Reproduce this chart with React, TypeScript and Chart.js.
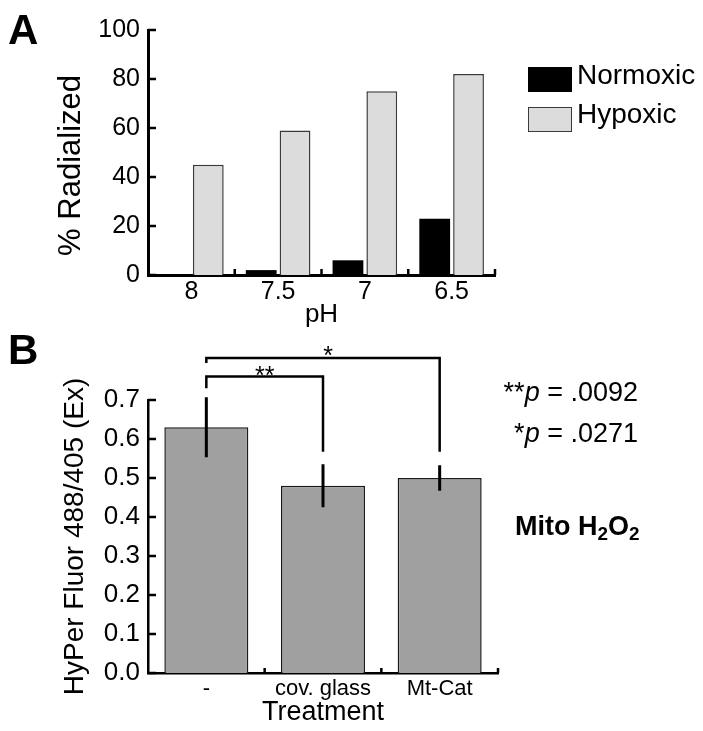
import React, { useEffect, useRef } from 'react';
import { Chart, registerables } from 'chart.js';
Chart.register(...registerables);

// ---------- Panel A data ----------
const phLabels = ['8', '7.5', '7', '6.5'];
const normoxicValues = [0, 2, 6, 23];
const hypoxicValues = [45, 59, 75, 82];
const radialTicks = [0, 20, 40, 60, 80, 100];
const seriesNamesA = ['Normoxic', 'Hypoxic'];
const seriesColorsA = ['#000000', '#dcdcdc'];

// ---------- Panel B data ----------
const treatments = ['-', 'cov. glass', 'Mt-Cat'];
const hyperMeans = [0.63, 0.48, 0.5];
const hyperErrors = [0.077, 0.055, 0.033];
const hyperTicks = [0, 0.1, 0.2, 0.3, 0.4, 0.5, 0.6, 0.7];
const sigFrom = [0, 0];
const sigTo = [1, 2];
const sigLevel = [0.76, 0.808];
const sigLeftEnd = [0.73, 0.795];
const sigRightEnd = [0.567, 0.567];
const sigMarks = ['**', '*'];
const pValueLines = [
  { stars: '**', value: ' = .0092' },
  { stars: '*', value: ' = .0271' },
];

const FONT = '"Liberation Sans", Arial, Helvetica, sans-serif';

const inwardTicks = {
  id: 'inwardTicks',
  afterDraw(chart: any, _args: any, opts: any) {
    const { ctx, chartArea } = chart;
    const x = chart.scales.x;
    const y = chart.scales.y;
    ctx.save();
    ctx.strokeStyle = '#000';
    ctx.lineWidth = opts.lineWidth || 2.5;
    ctx.beginPath();
    y.ticks.forEach((_t: any, i: number) => {
      const py = y.getPixelForTick(i);
      ctx.moveTo(chartArea.left, py);
      ctx.lineTo(chartArea.left + (opts.yLen || 8), py);
    });
    const n = x.ticks.length;
    for (let i = 0; i < n; i++) {
      const px = i < n - 1 ? (x.getPixelForTick(i) + x.getPixelForTick(i + 1)) / 2 : chartArea.right;
      ctx.moveTo(px, chartArea.bottom);
      ctx.lineTo(px, chartArea.bottom - (opts.xLen || 6));
    }
    ctx.stroke();
    ctx.restore();
  },
};

const errorAndSig = {
  id: 'errorAndSig',
  afterDatasetsDraw(chart: any) {
    const { ctx } = chart;
    const x = chart.scales.x;
    const y = chart.scales.y;
    ctx.save();
    ctx.strokeStyle = '#000';
    ctx.lineCap = 'butt';
    // error bars
    ctx.lineWidth = 3;
    ctx.beginPath();
    hyperMeans.forEach((m, i) => {
      const px = x.getPixelForValue(i);
      ctx.moveTo(px, y.getPixelForValue(m + hyperErrors[i]));
      ctx.lineTo(px, y.getPixelForValue(m - hyperErrors[i]));
    });
    ctx.stroke();
    // significance brackets
    ctx.lineWidth = 2.5;
    ctx.lineJoin = 'miter';
    sigMarks.forEach((mark, k) => {
      const x1 = x.getPixelForValue(sigFrom[k]);
      const x2 = x.getPixelForValue(sigTo[k]);
      const py = y.getPixelForValue(sigLevel[k]);
      ctx.beginPath();
      ctx.moveTo(x1, y.getPixelForValue(sigLeftEnd[k]));
      ctx.lineTo(x1, py);
      ctx.lineTo(x2, py);
      ctx.lineTo(x2, y.getPixelForValue(sigRightEnd[k]));
      ctx.stroke();
      ctx.fillStyle = '#000';
      ctx.font = `25px ${FONT}`;
      ctx.textAlign = 'center';
      ctx.textBaseline = 'alphabetic';
      ctx.fillText(mark, (x1 + x2) / 2 + (mark.length === 1 ? 5 : 0), py + (mark.length === 1 ? 6 : 7));
    });
    ctx.restore();
  },
};

function PanelA() {
  const ref = useRef<HTMLCanvasElement>(null);
  useEffect(() => {
    const chart = new Chart(ref.current as HTMLCanvasElement, {
      type: 'bar',
      data: {
        labels: phLabels,
        datasets: [
          { label: seriesNamesA[0], data: normoxicValues, backgroundColor: seriesColorsA[0], borderColor: '#000', borderWidth: 0 },
          { label: seriesNamesA[1], data: hypoxicValues, backgroundColor: seriesColorsA[1], borderColor: '#3a3a3a', borderWidth: 1.5 },
        ],
      },
      options: {
        animation: false,
        responsive: false,
        maintainAspectRatio: false,
        layout: { padding: { left: 0, right: 208, top: 30, bottom: 0 } },
        datasets: { bar: { categoryPercentage: 0.78, barPercentage: 0.91 } },
        plugins: {
          legend: { display: false },
          tooltip: { enabled: false },
          inwardTicks: { yLen: 8, xLen: 6, lineWidth: 2.5 },
        } as any,
        scales: {
          x: {
            z: 1,
            grid: { display: false, drawTicks: false },
            border: { display: true, color: '#000', width: 3 },
            ticks: { color: '#000', font: { family: FONT, size: 25 }, padding: 2 },
            title: { display: true, text: 'pH', color: '#000', font: { family: FONT, size: 26 }, padding: { top: 0, bottom: 10 } },
            afterFit: (s: any) => { s.height = 65; },
          },
          y: {
            z: 1,
            min: 0,
            max: 100,
            afterBuildTicks: (s: any) => { s.ticks = radialTicks.map((v) => ({ value: v })); },
            grid: { display: false, drawTicks: false },
            border: { display: true, color: '#000', width: 3 },
            ticks: { color: '#000', font: { family: FONT, size: 25 }, padding: 8, callback: (v: any) => String(v) },
            title: { display: true, text: '% Radialized   ', color: '#000', font: { family: FONT, size: 31 }, padding: { top: 53, bottom: 0 } },
            afterFit: (s: any) => { s.width = 148; },
          },
        },
      } as any,
      plugins: [inwardTicks],
    });
    return () => chart.destroy();
  }, []);
  return (
    <canvas ref={ref} width={703} height={340} style={{ position: 'absolute', left: 0, top: 0, width: 703, height: 340 }} />
  );
}

function PanelB() {
  const ref = useRef<HTMLCanvasElement>(null);
  useEffect(() => {
    const chart = new Chart(ref.current as HTMLCanvasElement, {
      type: 'bar',
      data: {
        labels: treatments,
        datasets: [
          { label: 'HyPer', data: hyperMeans, backgroundColor: '#a0a0a0', borderColor: '#1a1a1a', borderWidth: 1.5 },
        ],
      },
      options: {
        animation: false,
        responsive: false,
        maintainAspectRatio: false,
        layout: { padding: { left: 0, right: 205, top: 60, bottom: 0 } },
        datasets: { bar: { categoryPercentage: 0.8, barPercentage: 0.9 } },
        plugins: {
          legend: { display: false },
          tooltip: { enabled: false },
          inwardTicks: { yLen: 8, xLen: 5, lineWidth: 2.5 },
        } as any,
        scales: {
          x: {
            z: 1,
            grid: { display: false, drawTicks: false },
            border: { display: true, color: '#000', width: 2.5 },
            ticks: { color: '#000', font: { family: FONT, size: 22 }, padding: 3 },
            title: { display: true, text: 'Treatment', color: '#000', font: { family: FONT, size: 27 }, padding: { top: 0, bottom: 2 } },
            afterFit: (s: any) => { s.height = 58; },
          },
          y: {
            z: 1,
            min: 0,
            max: 0.7,
            afterBuildTicks: (s: any) => { s.ticks = hyperTicks.map((v) => ({ value: v })); },
            grid: { display: false, drawTicks: false },
            border: { display: true, color: '#000', width: 2.5 },
            ticks: { color: '#000', font: { family: FONT, size: 26 }, padding: 8, callback: (v: any) => Number(v).toFixed(1) },
            title: { display: true, text: 'HyPer Fluor 488/405 (Ex)', color: '#000', font: { family: FONT, size: 28 }, padding: { top: 58, bottom: 0 } },
            afterFit: (s: any) => { s.width = 148; },
          },
        },
      } as any,
      plugins: [inwardTicks, errorAndSig],
    });
    return () => chart.destroy();
  }, []);
  return (
    <canvas ref={ref} width={703} height={391} style={{ position: 'absolute', left: 0, top: 340, width: 703, height: 391 }} />
  );
}

const textBase: React.CSSProperties = { position: 'absolute', fontFamily: FONT, color: '#000', whiteSpace: 'nowrap' };

export default function App() {
  return (
    <div style={{ position: 'absolute', left: 0, top: 0, width: 703, height: 731, background: '#fff', overflow: 'hidden' }}>
      <PanelA />
      <PanelB />
      <div style={{ ...textBase, left: 8, top: 9, fontSize: 42, lineHeight: '42px', fontWeight: 'bold' }}>A</div>
      <div style={{ ...textBase, left: 8, top: 329, fontSize: 42, lineHeight: '42px', fontWeight: 'bold' }}>B</div>
      {seriesNamesA.map((name, i) => (
        <React.Fragment key={name}>
          <div
            style={{
              position: 'absolute',
              left: 528,
              top: 67 + i * 40,
              width: 44,
              height: 25,
              boxSizing: 'border-box',
              background: seriesColorsA[i],
              border: i === 1 ? '1.5px solid #3a3a3a' : '1.5px solid #000',
            }}
          />
          <div style={{ ...textBase, left: 577, top: 60 + i * 39, fontSize: 28, lineHeight: '30px' }}>{name}</div>
        </React.Fragment>
      ))}
      {pValueLines.map((l, i) => (
        <div key={i} style={{ ...textBase, right: 65, top: 377 + i * 41, fontSize: 27, lineHeight: '30px', textAlign: 'right' }}>
          {l.stars}
          <i>p</i>
          {l.value}
        </div>
      ))}
      <div style={{ ...textBase, left: 515, top: 511, fontSize: 27, lineHeight: '30px', fontWeight: 'bold' }}>
        Mito H<sub style={{ fontSize: '0.7em', verticalAlign: '-0.25em', lineHeight: 0 }}>2</sub>O
        <sub style={{ fontSize: '0.7em', verticalAlign: '-0.25em', lineHeight: 0 }}>2</sub>
      </div>
    </div>
  );
}
